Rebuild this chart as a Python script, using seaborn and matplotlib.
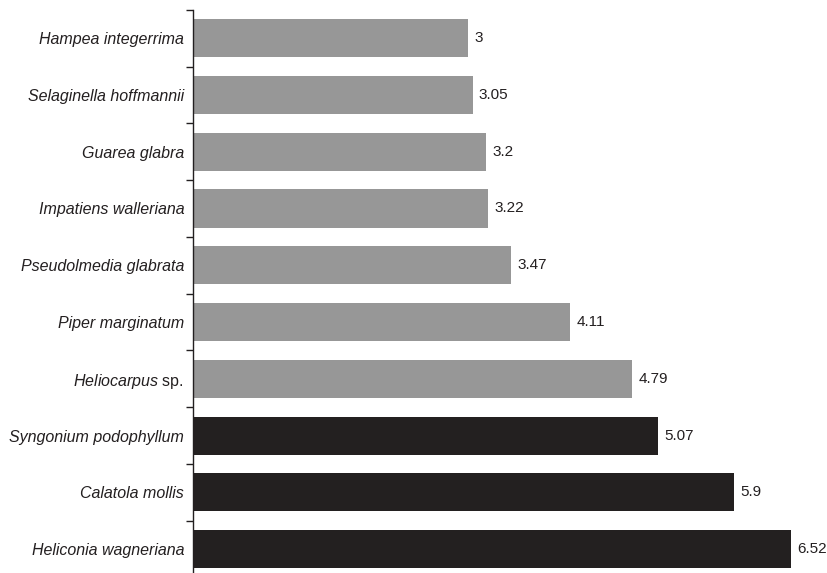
import numpy as np
import pandas as pd
import seaborn as sns
import matplotlib.pyplot as plt
from matplotlib.ticker import FixedLocator

################################# data #####################################

species = ["Hampea integerrima", "Selaginella hoffmannii", "Guarea glabra",
           "Impatiens walleriana", "Pseudolmedia glabrata", "Piper marginatum",
           "Heliocarpus sp.", "Syngonium podophyllum", "Calatola mollis",
           "Heliconia wagneriana"]
values = [3, 3.05, 3.2, 3.22, 3.47, 4.11, 4.79, 5.07, 5.9, 6.52]
group = ["gray"] * 7 + ["black"] * 3

################################# plot #####################################

sns.set_style("white")
plt.rcParams['font.family'] = ['Liberation Sans', 'DejaVu Sans']
plt.rcParams['mathtext.fontset'] = 'custom'
plt.rcParams['mathtext.rm'] = 'Liberation Sans'
plt.rcParams['mathtext.it'] = 'Liberation Sans:italic'

df = pd.DataFrame({"species": species, "value": values, "group": group})

fig = plt.figure(figsize=(8.28, 5.73), dpi=100)
ax = fig.add_axes([0.2325, -0.008, 0.7675, 0.991])
sns.barplot(data=df, x="value", y="species", hue="group",
            palette={"gray": "#979797", "black": "#231f20"},
            dodge=False, legend=False, width=0.67, linewidth=0, ax=ax)

for c in ax.containers:
    ax.bar_label(c, fmt='{:g}', padding=4.5, fontsize=11, color="#231f20")

ax.set_xlim(0, 6.92)
ax.set_ylim(len(species) - 0.5, -0.5)
ax.set_xlabel("")
ax.set_ylabel("")
ax.set_xticks([])

labels = []
for s in species:
    if s.endswith(" sp."):
        labels.append("$\\mathit{" + s[:-4] + "}$ sp.")
    else:
        labels.append(s)
ax.set_yticks(range(len(species)))
ax.set_yticklabels(labels, fontsize=11.5, color="#231f20")
for lab, s in zip(ax.get_yticklabels(), species):
    lab.set_fontstyle("normal" if s.endswith(" sp.") else "italic")
ax.tick_params(axis="y", which="major", length=0, pad=6)
ax.yaxis.set_minor_locator(FixedLocator(np.arange(-0.5, len(species), 1)))
ax.tick_params(axis="y", which="minor", length=5, width=1, color="#231f20", left=True)

for side in ["top", "right", "bottom"]:
    ax.spines[side].set_visible(False)
ax.spines["left"].set_color("#231f20")
ax.spines["left"].set_linewidth(1)

plt.savefig("out.png", dpi=100)
